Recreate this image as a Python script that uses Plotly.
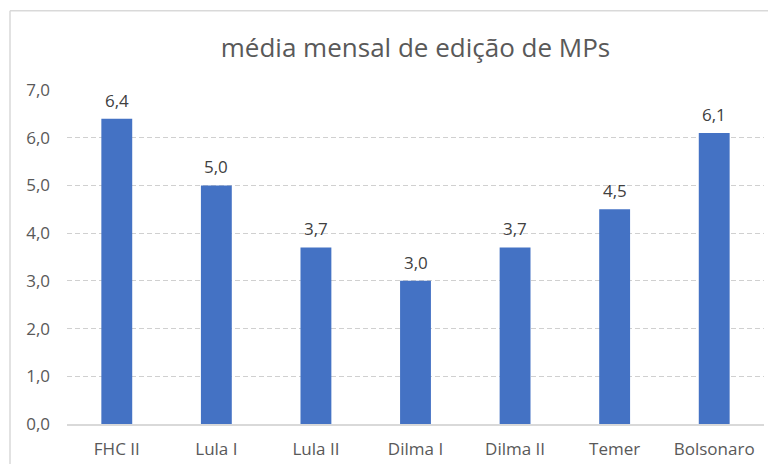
import plotly.graph_objects as go

categories = ["FHC II", "Lula I", "Lula II", "Dilma I", "Dilma II", "Temer", "Bolsonaro"]
values = [6.4, 5.0, 3.7, 3.0, 3.7, 4.5, 6.1]
title_text = "média mensal de edição de MPs"
tick_vals = [0, 1, 2, 3, 4, 5, 6, 7]

# page body has an 8px margin; figure sized to fit the 776x472 window
W, H = 760, 456
ml, mr, mt, mb = 59, 4, 82, 37
pw, ph = W - ml - mr, H - mt - mb

FONT = "Open Sans"
GREY = "#595959"

fig = go.Figure(go.Bar(
    x=categories, y=values,
    marker=dict(color="#4472C4", line=dict(width=0)),
    width=0.31,
    hoverinfo="skip",
))

for c, v in zip(categories, values):
    fig.add_annotation(
        x=c, y=v, text=f"{v:.1f}".replace(".", ","),
        showarrow=False, yanchor="bottom", yshift=5,
        font=dict(family=FONT, size=17, color="#404040"),
    )

def px_to_paper_x(px):
    return (px - ml) / pw

def px_to_paper_y(py):
    return (H - mb - py) / ph

# chart area border (top and left edges visible)
bx, by = px_to_paper_x(2), px_to_paper_y(2)
fig.add_shape(type="line", xref="paper", yref="paper",
              x0=bx, x1=px_to_paper_x(W + 10), y0=by, y1=by,
              line=dict(color="#d9d9d9", width=1.5), layer="below")
fig.add_shape(type="line", xref="paper", yref="paper",
              x0=bx, x1=bx, y0=by, y1=px_to_paper_y(H + 10),
              line=dict(color="#d9d9d9", width=1.5), layer="below")

fig.update_layout(
    width=W, height=H,
    margin=dict(l=ml, r=mr, t=mt, b=mb),
    paper_bgcolor="white", plot_bgcolor="white",
    separators=",.",
    showlegend=False,
    title=dict(text=title_text, x=0.5, xref="paper", xanchor="center",
               y=1 - 40 / H, yanchor="middle",
               font=dict(family=FONT, size=26, color=GREY)),
    font=dict(family=FONT, color=GREY),
)
fig.update_xaxes(
    showgrid=False, showline=True, linecolor="#d9d9d9", linewidth=1.5,
    ticks="", tickfont=dict(family=FONT, size=17, color=GREY),
    ticklabelstandoff=9, fixedrange=True,
)
fig.update_yaxes(
    range=[0, 7], tickvals=tick_vals, tickformat=".1f",
    showgrid=True, gridcolor="#d0d0d0", griddash="5px,3px", gridwidth=1,
    zeroline=False, showline=False, ticks="",
    tickfont=dict(family=FONT, size=17, color=GREY),
    ticklabelstandoff=16, fixedrange=True,
)

fig.write_html("out.html")
